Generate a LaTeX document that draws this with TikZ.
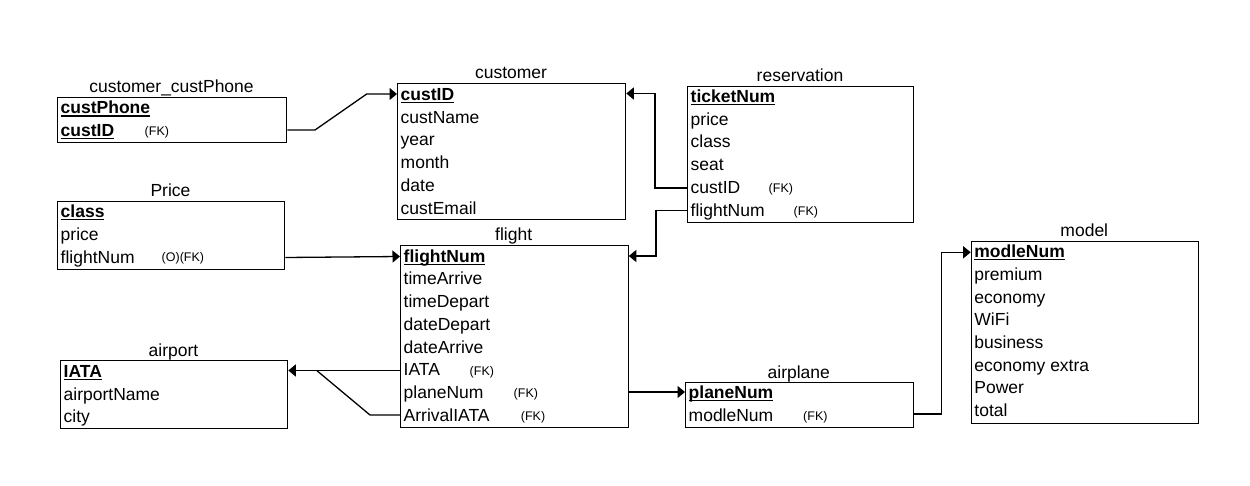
\documentclass[tikz,border=0pt]{standalone}
\usepackage{fontspec}
\setmainfont{Liberation Sans}
\usetikzlibrary{arrows.meta}
\newcommand\rowfont{\fontsize{17.5}{20}\selectfont}
\newcommand\fkfont{\fontsize{12.5}{14}\selectfont}
\newcommand\keyul[1]{\setbox0\hbox{\textbf{#1}}\rlap{\rule[-2.6pt]{\wd0}{1.3pt}}\box0}
\begin{document}
\begin{tikzpicture}[x=1pt,y=-1pt,
  tbox/.style={draw=black, line width=1.3pt, inner sep=0pt, anchor=north west},
  row/.style={anchor=base west, inner sep=0pt, font=\rowfont},
  ttl/.style={anchor=base, inner sep=0pt, font=\rowfont},
  fk/.style={anchor=base west, inner sep=0pt, font=\fkfont},
  conn/.style={draw=black, line width=1.3pt},
  arr/.style={conn, -{Triangle[length=7.5pt,width=12pt]}}]
\useasboundingbox (0,0) rectangle (1250,486);

% customer_custPhone
\node[tbox, minimum width=229pt, minimum height=45pt] (phone) at (57,97) {};
\node[ttl] (phone-t) at (171.5,93) {customer\_custPhone};
\foreach \t [count=\i] in {\keyul{custPhone},\keyul{custID}}
  \node[row] (phone-r\i) at (60.5,{114+(\i-1)*22.7}) {\t};
\node[fk] (phone-fk) at (144.5,135.5) {(FK)};

% Price
\node[tbox, minimum width=227pt, minimum height=68pt] (price) at (57,201) {};
\node[ttl] (price-t) at (170.5,197) {Price};
\foreach \t [count=\i] in {\keyul{class},price,flightNum}
  \node[row] (price-r\i) at (60.5,{217.7+(\i-1)*22.7}) {\t};
\node[fk] (price-fk) at (161.5,262) {(O)(FK)};

% customer
\node[tbox, minimum width=228pt, minimum height=136pt] (customer) at (397,83) {};
\node[ttl] (customer-t) at (511,79) {customer};
\foreach \t [count=\i] in {\keyul{custID},custName,year,month,date,custEmail}
  \node[row] (customer-r\i) at (400.5,{100.5+(\i-1)*22.75}) {\t};

% reservation
\node[tbox, minimum width=226pt, minimum height=136pt] (reservation) at (687,86) {};
\node[ttl] (reservation-t) at (800,82) {reservation};
\foreach \t [count=\i] in {\keyul{ticketNum},price,class,seat,custID,flightNum}
  \node[row] (reservation-r\i) at (690.5,{102.5+(\i-1)*22.75}) {\t};
\node[fk] (reservation-fk1) at (768.5,192.5) {(FK)};
\node[fk] (reservation-fk2) at (793.5,215.2) {(FK)};

% flight
\node[tbox, minimum width=227.5pt, minimum height=181.5pt] (flight) at (400,245) {};
\node[ttl] (flight-t) at (513.7,241) {flight};
\foreach \t [count=\i] in {\keyul{flightNum},timeArrive,timeDepart,dateDepart,dateArrive,IATA,planeNum,ArrivalIATA}
  \node[row] (flight-r\i) at (403.5,{262.3+(\i-1)*22.7}) {\t};
\node[fk] (flight-fk1) at (469.5,375) {(FK)};
\node[fk] (flight-fk2) at (513.5,397.7) {(FK)};
\node[fk] (flight-fk3) at (520.7,420.4) {(FK)};

% airport
\node[tbox, minimum width=227pt, minimum height=67.5pt] (airport) at (60,360) {};
\node[ttl] (airport-t) at (173.5,356.5) {airport};
\foreach \t [count=\i] in {\keyul{IATA},airportName,city}
  \node[row] (airport-r\i) at (63.5,{377.5+(\i-1)*22.5}) {\t};

% airplane
\node[tbox, minimum width=227.7pt, minimum height=44.7pt] (airplane) at (685,382) {};
\node[ttl] (airplane-t) at (798.8,378) {airplane};
\foreach \t [count=\i] in {\keyul{planeNum},modleNum}
  \node[row] (airplane-r\i) at (688.5,{398.3+(\i-1)*22.7}) {\t};
\node[fk] (airplane-fk) at (803,420) {(FK)};

% model
\node[tbox, minimum width=227.3pt, minimum height=181.7pt] (model) at (970.7,241) {};
\node[ttl] (model-t) at (1084.3,237) {model};
\foreach \t [count=\i] in {\keyul{modleNum},premium,economy,WiFi,business,economy extra,Power,total}
  \node[row] (model-r\i) at (974.2,{257.7+(\i-1)*22.7}) {\t};

% connectors
\draw[arr] (phone.east |- 0,130) -- (315,130) -- (366.7,94) -- (customer.west |- 0,94);
\draw[arr] (reservation.west |- 0,188) -- (655,188) -- (655,93.5) -- (customer.east |- 0,93.5);
\draw[arr] (reservation.west |- 0,210.5) -- (656,210.5) -- (656,256) -- (flight.east |- 0,256);
\draw[arr] (price.east |- 0,257.5) -- (flight.west |- 0,256.5);
\draw[arr] (flight.west |- 0,370.5) -- (airport.east |- 0,370.5);
\draw[conn] (flight.west |- 0,415) -- (370,415) -- (316.7,370.5);
\draw[arr] (flight.east |- 0,392) -- (airplane.west |- 0,392);
\draw[arr] (airplane.east |- 0,414) -- (941.7,414) -- (941.7,252.3) -- (model.west |- 0,252.3);
\end{tikzpicture}
\end{document}
